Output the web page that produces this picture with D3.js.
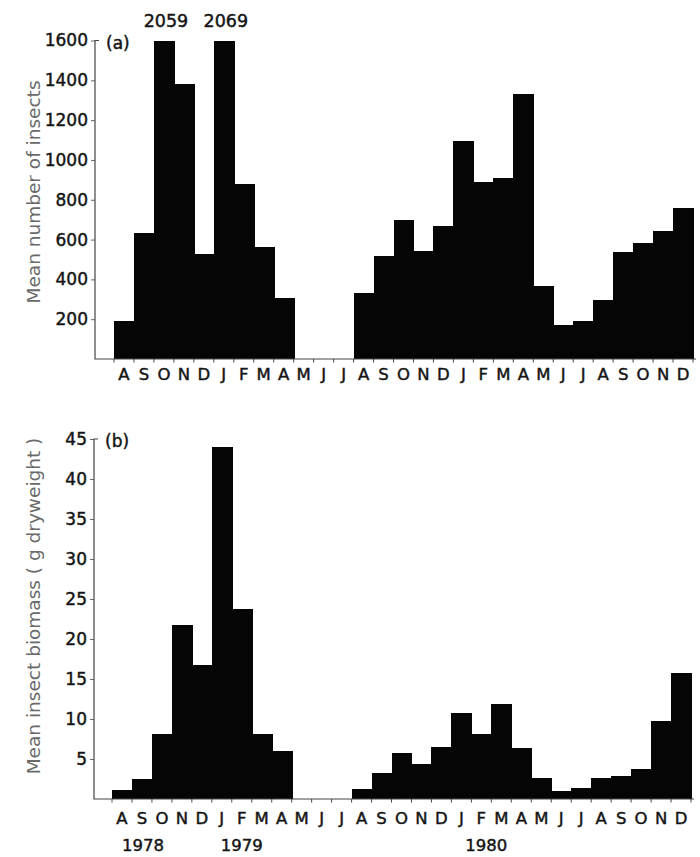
<!DOCTYPE html>
<html>
<head>
<meta charset="utf-8">
<script src="https://cdn.jsdelivr.net/npm/d3@7"></script>
<style>
  html, body { margin: 0; padding: 0; background: #fff; }
  svg { display: block; }
  text { font-family: "DejaVu Sans", "Liberation Sans", sans-serif; }
  .ink { fill: #151515; stroke: #151515; stroke-width: 0.45px; }
</style>
</head>
<body>
<svg id="chart" width="700" height="857"></svg>
<script>
// Month sequence, Aug 1978 – Dec 1980
const months = ["A","S","O","N","D","J","F","M","A","M","J","J","A","S","O","N","D",
                "J","F","M","A","M","J","J","A","S","O","N","D"];
// (a) mean number of insects per month
const insectCounts = [190,635,2059,1380,525,2069,880,565,305,0,0,0,
                      330,515,700,545,670,1095,890,910,1330,365,170,190,295,540,585,645,760];
// (b) mean insect biomass, g dry weight
const biomass = [1.1,2.5,8.1,21.8,16.7,44.0,23.8,8.1,6.0,0,0,0,
                 1.2,3.3,5.8,4.4,6.5,10.8,8.1,11.9,6.4,2.6,1.0,1.4,2.6,2.9,3.7,9.7,15.8];
const countTicks = [200,400,600,800,1000,1200,1400,1600];
const biomassTicks = [5,10,15,20,25,30,35,40,45];
const years = [{label:"1978", month:1.05}, {label:"1979", month:6.0}, {label:"1980", month:18.25}];

const svg = d3.select("#chart");

function panel(opts) {
  const g = svg.append("g");
  const idx = d3.range(opts.values.length);
  const x = d3.scaleBand().domain(idx).range([opts.x0, opts.x1]).padding(0);
  const y = d3.scaleLinear().domain([0, opts.yMax]).range([opts.base, opts.top]).clamp(true);
  const left = i => Math.round(x(i));
  const right = i => Math.round(x(i) + x.bandwidth());

  // bars (contiguous monthly blocks, snapped to whole pixels so they join cleanly)
  g.selectAll("rect.bar").data(opts.values).enter().append("rect")
    .attr("class", "bar")
    .attr("x", (d, i) => left(i))
    .attr("width", (d, i) => right(i) - left(i) + 1)
    .attr("y", d => Math.round(y(d)))
    .attr("height", d => opts.base - Math.round(y(d)))
    .attr("fill", "#050505")
    .attr("shape-rendering", "crispEdges");

  // values beyond the axis are written above their bar
  g.selectAll("text.over").data(opts.values.map((v, i) => ({v, i})).filter(d => d.v > opts.yMax))
    .enter().append("text")
    .attr("class", "ink")
    .attr("x", d => x(d.i) + x.bandwidth() / 2 + 2)
    .attr("y", opts.top - 14)
    .attr("text-anchor", "middle")
    .attr("font-size", 17.5)
    .text(d => d.v);

  // y axis
  const yAxis = d3.axisLeft(y).tickValues(opts.ticks).tickFormat(d3.format("d"))
    .tickSize(4).tickPadding(3);
  const ya = g.append("g").attr("transform", `translate(${opts.axisX},0)`).call(yAxis);
  ya.select(".domain").remove();
  ya.selectAll(".tick line").attr("stroke", "#666");
  ya.selectAll(".tick text").attr("class", "ink").attr("font-size", 17)
    .attr("font-family", "DejaVu Sans, sans-serif");
  g.append("path")
    .attr("d", `M${opts.axisX + 4},${y(opts.yMax)}H${opts.axisX}V${opts.base}H${opts.x1 + 3}`)
    .attr("fill", "none").attr("stroke", "#444").attr("stroke-width", 1.2);

  // x axis month ticks and labels
  const bounds = d3.range(opts.values.length + 1).map(i => opts.x0 + i * x.step());
  g.selectAll("line.mt").data(bounds).enter().append("line")
    .attr("x1", d => d).attr("x2", d => d)
    .attr("y1", opts.base).attr("y2", opts.base + 3.5)
    .attr("stroke", "#444").attr("stroke-width", 1);
  g.selectAll("text.month").data(months).enter().append("text")
    .attr("class", "ink")
    .attr("x", (d, i) => x(i) + x.bandwidth() / 2)
    .attr("y", opts.base + opts.monthDy)
    .attr("text-anchor", "middle")
    .attr("font-size", 16.5)
    .text(d => d);

  // panel letter
  g.append("text").attr("class", "ink").attr("x", opts.axisX + 11).attr("y", y(opts.yMax) + 8)
    .attr("font-size", 17).text(opts.tag);

  // y axis title
  g.append("text")
    .attr("transform", `translate(40,${opts.titleY}) rotate(-90)`)
    .attr("text-anchor", "middle")
    .attr("font-size", 18.5)
    .attr("fill", "#6a6a6a")
    .text(opts.title);

  return {x, y, g};
}

panel({values: insectCounts, yMax: 1600, ticks: countTicks, x0: 114, x1: 693,
       base: 359, top: 40.5, axisX: 95, monthDy: 21, tag: "(a)",
       title: "Mean number  of insects", titleY: 192});

const b = panel({values: biomass, yMax: 45, ticks: biomassTicks, x0: 112, x1: 691,
       base: 799, top: 439, axisX: 94, monthDy: 25, tag: "(b)",
       title: "Mean insect biomass ( g dryweight )", titleY: 606});

// year labels under panel (b)
b.g.selectAll("text.year").data(years).enter().append("text")
  .attr("class", "ink")
  .attr("x", d => b.x(0) + (d.month + 0.5) * b.x.step())
  .attr("y", 851)
  .attr("text-anchor", "middle")
  .attr("font-size", 16.5)
  .text(d => d.label);
</script>
</body>
</html>
